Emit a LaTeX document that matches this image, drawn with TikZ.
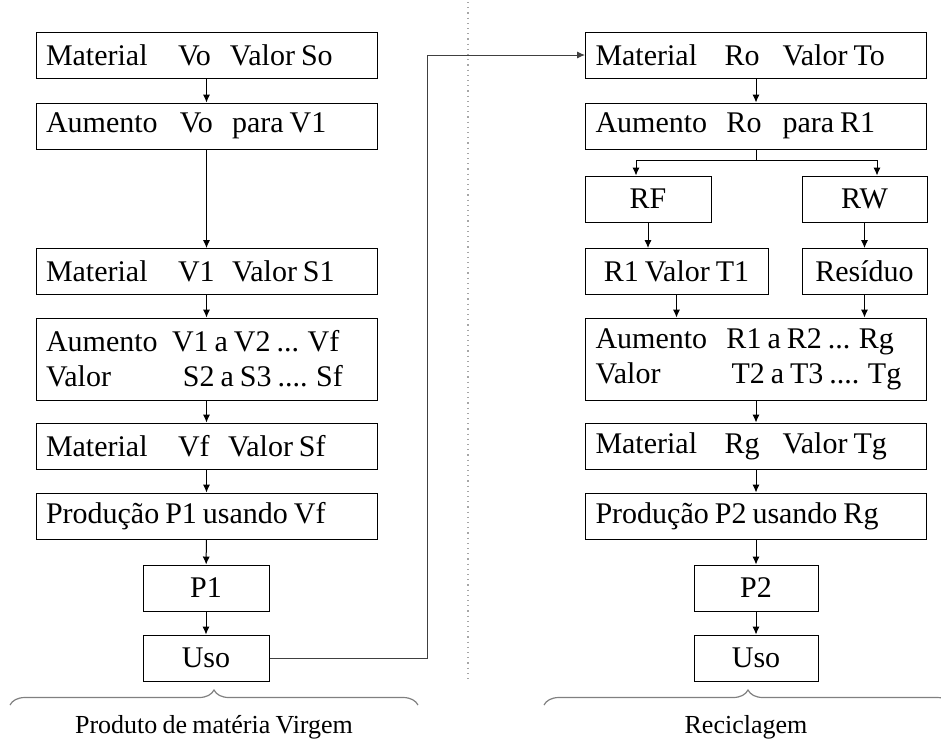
\documentclass[tikz,border=0pt]{standalone}
\usepackage{fontspec}
\setmainfont{Liberation Serif}[WordSpace=0.8]
\usetikzlibrary{shapes}
\usetikzlibrary{arrows.meta}
\usetikzlibrary{calc}
\usetikzlibrary{decorations.pathreplacing}
\newcommand{\wcol}[2]{\makebox[#1pt][l]{#2}}

\begin{document}
\begin{tikzpicture}[x=0.5pt,y=-0.5pt]
			\tikzstyle{caixa}=[rectangle,draw,line width=0.5pt,minimum height=23pt,inner xsep=5pt,inner ysep=2pt,font=\fontsize{15}{17.5}\selectfont]
			\tikzstyle{larga}=[caixa,text width=160.5pt,align=flush left]
			\tikzstyle{seta}=[-{Latex[length=4pt,width=3.6pt]},line width=0.5pt]
			\tikzstyle{chave}=[decorate,decoration={brace,amplitude=7.5pt},draw=gray,line width=0.6pt]
			\tikzstyle{rotulo}=[font=\fontsize{13}{15}\selectfont]

			\useasboundingbox (0,0) rectangle (941,741);

			\node[larga] (v0) at (206.5,55) {\wcol{66}{Material}\wcol{26}{Vo}Valor So};
			\node[larga] (v1) at (206.5,126) {\wcol{67}{Aumento}\wcol{26}{Vo}para V1};
			\node[larga] (v2) at (206.5,271.5) {\wcol{66}{Material}\wcol{27}{V1}Valor S1};
			\node[larga,minimum height=41pt] (v3) at (206.5,359) {\wcol{63}{Aumento}V1 a V2 ... Vf\\\wcol{68.5}{Valor}S2 a S3 .... Sf};
			\node[larga] (v4) at (206.5,446) {\wcol{66}{Material}\wcol{25}{Vf}Valor Sf};
			\node[larga] (v5) at (206.5,516) {Produção P1 usando Vf};
			\node[caixa,minimum width=63pt] (p1) at (206,588) {P1};
			\node[caixa,minimum width=63pt] (uso1) at (206,658) {Uso};

			\node[larga] (r0) at (756,55) {\wcol{64.5}{Material}\wcol{29}{Ro}Valor To};
			\node[larga] (r1) at (756,126) {\wcol{65.5}{Aumento}\wcol{28}{Ro}para R1};
			\node[caixa,minimum width=63pt] (rf) at (648,199) {RF};
			\node[caixa,minimum width=62.5pt] (rw) at (864.5,199) {RW};
			\node[caixa,minimum width=91.5pt] (rv) at (676.5,271.5) {R1 Valor T1};
			\node[caixa,minimum width=62.5pt] (res) at (864.5,271.5) {Resíduo};
			\node[larga,minimum height=41pt] (r3) at (756,359) {\wcol{65.5}{Aumento}R1 a R2 ... Rg\\\wcol{68}{Valor}T2 a T3 .... Tg};
			\node[larga] (r4) at (756,446) {\wcol{64.5}{Material}\wcol{29}{Rg}Valor Tg};
			\node[larga] (r5) at (756,516) {Produção P2 usando Rg};
			\node[caixa,minimum width=62pt] (p2) at (756,588) {P2};
			\node[caixa,minimum width=62pt] (uso2) at (756,658) {Uso};

			\draw[seta] (v0) -- (v1);
			\draw[seta] (v1) -- (v2);
			\draw[seta] (v2) -- (v3);
			\draw[seta] (v3) -- (v4);
			\draw[seta] (v4) -- (v5);
			\draw[seta] (v5) -- (p1);
			\draw[seta] (p1) -- (uso1);

			\coordinate (volta) at (427,0);
			\draw[seta,draw=black!75] (uso1.east) -| (volta |- r0.west) -- (r0.west);
			\draw[gray!70,dotted,line width=0.6pt] (468,2) -- (468,680);

			\draw[seta] (r0) -- (r1);
			\coordinate (ramo) at ($(r1.south)+(0,11)$);
			\draw (r1.south) -- (ramo);
			\draw[seta] (ramo) -| ($(rf.north)+(-12,0)$);
			\draw[seta] (ramo) -| ($(rw.north)+(12.5,0)$);
			\draw[seta] (rf) -- (rf |- rv.north);
			\draw[seta] (rw) -- (res);
			\draw[seta] (rv) -- (rv |- r3.north);
			\draw[seta] (res) -- (res |- r3.north);
			\draw[seta] (r3) -- (r4);
			\draw[seta] (r4) -- (r5);
			\draw[seta] (r5) -- (p2);
			\draw[seta] (p2) -- (uso2);

			\draw[chave] (10,705) -- (418,705);
			\draw[chave] (544,705) -- (952,705);
			\node[rotulo] (virgem) at (214,727) {Produto de matéria Virgem};
			\node[rotulo] (recicla) at (746,727) {Reciclagem};
\end{tikzpicture}
\end{document}
